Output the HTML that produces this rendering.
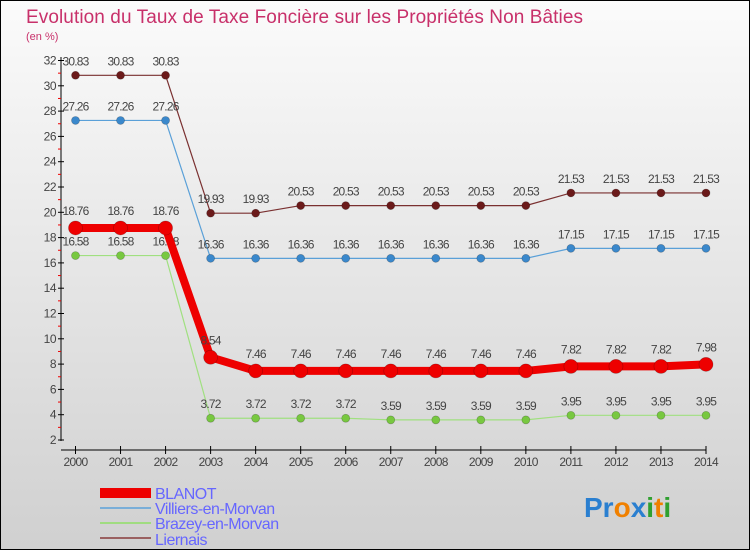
<!DOCTYPE html>
<html><head><meta charset="utf-8"><style>
body{margin:0}
#c{width:750px;height:550px;position:relative;overflow:hidden;font-family:"Liberation Sans",sans-serif;}
</style></head><body>
<div id="c">
<svg id="s" width="750" height="550" xmlns="http://www.w3.org/2000/svg">
<defs><linearGradient id="bg" x1="0" y1="0" x2="0" y2="1"><stop offset="0" stop-color="#fbfbfb"/><stop offset="1" stop-color="#d0d0d0"/></linearGradient></defs>
<rect x="0.5" y="0.5" width="749" height="549" fill="url(#bg)" stroke="#000"/>
<text x="26" y="23" font-size="19" fill="#c8306a" textLength="557">Evolution du Taux de Taxe Foncière sur les Propriétés Non Bâties</text>
<text x="26" y="40" font-size="11" fill="#c8306a">(en %)</text>
<g id="axes"></g><g id="series"></g>
<g>
<rect x="100" y="488" width="51" height="10" fill="#e00"/>
<text x="155" y="499" font-size="16" fill="#6666ff" letter-spacing="-0.5">BLANOT</text>
<line x1="100" y1="508" x2="151" y2="508" stroke="#7aaed8" stroke-width="2"/>
<text x="155" y="514" font-size="16" fill="#6666ff" letter-spacing="-0.5">Villiers-en-Morvan</text>
<line x1="100" y1="523" x2="151" y2="523" stroke="#a0dc80" stroke-width="2"/>
<text x="155" y="529" font-size="16" fill="#6666ff" letter-spacing="-0.5">Brazey-en-Morvan</text>
<line x1="100" y1="538" x2="151" y2="538" stroke="#9a6060" stroke-width="2"/>
<text x="155" y="545" font-size="16" fill="#6666ff" letter-spacing="-0.5">Liernais</text>
</g>
<g font-size="28" font-weight="bold">
<text x="584" y="517"><tspan fill="#2a7fd0">Pr</tspan><tspan fill="#f08000">o</tspan><tspan fill="#2a7fd0">x</tspan><tspan fill="#30a030">i</tspan><tspan fill="#f08000">t</tspan><tspan fill="#30a030">i</tspan></text>
</g>
</svg>
</div>
<script>
const years=[2000,2001,2002,2003,2004,2005,2006,2007,2008,2009,2010,2011,2012,2013,2014];
const blanot=[18.76,18.76,18.76,8.54,7.46,7.46,7.46,7.46,7.46,7.46,7.46,7.82,7.82,7.82,7.98];
const villiers=[27.26,27.26,27.26,16.36,16.36,16.36,16.36,16.36,16.36,16.36,16.36,17.15,17.15,17.15,17.15];
const brazey=[16.58,16.58,16.58,3.72,3.72,3.72,3.72,3.59,3.59,3.59,3.59,3.95,3.95,3.95,3.95];
const liernais=[30.83,30.83,30.83,19.93,19.93,20.53,20.53,20.53,20.53,20.53,20.53,21.53,21.53,21.53,21.53];
const yTicks=[2,4,6,8,10,12,14,16,18,20,22,24,26,28,30,32];
const NS="http://www.w3.org/2000/svg";
const x=i=>75.5+i*(706-75.5)/(years.length-1);
const y=v=>440-(v-2)*(440-60.5)/30;
function mk(tag,at,parent,text){const e=document.createElementNS(NS,tag);for(const k in at)e.setAttribute(k,at[k]);if(text!==undefined)e.textContent=text;parent.appendChild(e);return e;}
const ax=document.getElementById('axes');
let e=mk('line',{x1:61,y1:57,x2:61,y2:441,stroke:'#000'},ax);


e=mk('line',{x1:61,y1:450,x2:706,y2:450,stroke:'#000'},ax);


yTicks.forEach(t=>{
 mk('line',{x1:58,y1:y(t),x2:64,y2:y(t),stroke:'#000'},ax);
 if(t<32) mk('line',{x1:58,y1:y(t+1),x2:61,y2:y(t+1),stroke:'#e00'},ax);
 const l=mk('text',{x:56,y:y(t)+4,'font-size':12,fill:'#444','text-anchor':'end','letter-spacing':'-0.5'},ax,String(t));
 
 
});
years.forEach((yr,i)=>{
 mk('line',{x1:x(i),y1:446,x2:x(i),y2:454,stroke:'#000'},ax);
 const l=mk('text',{x:x(i),y:466,'font-size':12,fill:'#444','text-anchor':'middle','letter-spacing':'-0.7'},ax,String(yr));
 
 
});
const sg=document.getElementById('series');
function draw(name,data,line,dot,w,r){
 const g=mk('g',{},sg);
 
 
 const p=mk('polyline',{points:data.map((v,i)=>x(i)+','+y(v)).join(' '),fill:'none',stroke:line,'stroke-width':w},g);
 
 
 data.forEach((v,i)=>{
  const c=mk('circle',{cx:x(i),cy:y(v),r:r,fill:dot,stroke:'rgba(0,0,0,0.25)','stroke-width':0.7},g);
  
  
  const t=mk('text',{x:x(i),y:y(v)-(r+6),'font-size':12,fill:'#444','text-anchor':'middle','letter-spacing':'-0.8'},g,v.toFixed(2).replace(/0$/,'').replace(/\.$/,''));
  
  
 });
}
draw('liernais',liernais,'#7a3030','#6b1a1a',1.2,4);
draw('villiers',villiers,'#5aa0d8','#3a88cc',1.2,4);
draw('brazey',brazey,'#a0e080','#78c840',1.2,4);
draw('blanot',blanot,'#ee0000','#ee0000',8,7);
</script>
</body></html>
